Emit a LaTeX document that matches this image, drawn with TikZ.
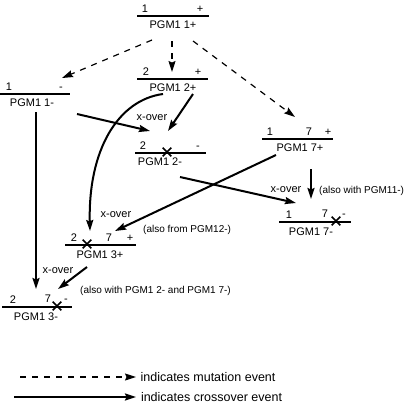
\documentclass[tikz,border=0pt]{standalone}
\usepackage{fontspec}
\setmainfont{Liberation Sans}
\usetikzlibrary{arrows.meta,shapes.misc}

\begin{document}
\begin{tikzpicture}[x=1pt, y=-1pt, >={Stealth[length=11pt,width=7pt,inset=1.5pt]},
    chrom/.style={line width=1.8pt},
    lbl/.style={font=\fontsize{11}{13}\selectfont, inner sep=0pt},
    note/.style={font=\fontsize{10}{12}\selectfont, inner sep=0pt},
    locus/.style={lbl, anchor=south},
    strain/.style={lbl, anchor=north},
    xmark/.style={cross out, draw, line width=1.6pt, minimum size=7pt, inner sep=0pt},
    mut/.style={->, line width=1.2pt, dash pattern=on 6pt off 6pt},
    xo/.style={->, line width=2pt}]
    \useasboundingbox (0,0) rectangle (406,407);
    % PGM1 1+
    \draw[chrom] (137,16) -- (209,16);
    \node[locus] (t11p) at (145,13) {1}; \node[locus] (s11p) at (200,13) {+};
    \node[strain] (n11p) at (173,20.5) {PGM1 1+};
    % PGM1 2+
    \draw[chrom] (137,79) -- (208,79);
    \node[locus] (t12p) at (146,76) {2}; \node[locus] (s12p) at (198,76) {+};
    \node[strain] (n12p) at (173,83.5) {PGM1 2+};
    % PGM1 1-
    \draw[chrom] (0,94) -- (70,94);
    \node[locus] (t11m) at (9,91) {1}; \node[locus] (s11m) at (61,91) {-};
    \node[strain] (n11m) at (32,98.5) {PGM1 1-};
    % PGM1 7+
    \draw[chrom] (262,139) -- (333,139);
    \node[locus] (t17p) at (270,136) {1}; \node[locus] (u17p) at (309,136) {7};
    \node[locus] (s17p) at (328,136) {+};
    \node[strain] (n17p) at (300,143.5) {PGM1 7+};
    % PGM1 2-
    \draw[chrom] (135,153) -- (206,153);
    \node[locus] (t12m) at (143,150) {2}; \node[locus] (s12m) at (198,150) {-};
    \node[xmark] (x12m) at (167,152) {};
    \node[strain] (n12m) at (160,157.5) {PGM1 2-};
    % PGM1 7-
    \draw[chrom] (279,222) -- (351,222);
    \node[locus] (t17m) at (289,219) {1}; \node[locus] (u17m) at (325,218) {7};
    \node[locus] (s17m) at (344,218) {-};
    \node[xmark] (x17m) at (336,221) {};
    \node[strain] (n17m) at (311,227.5) {PGM1 7-};
    % PGM1 3+
    \draw[chrom] (65,245) -- (136,245);
    \node[locus] (t13p) at (74,242) {2}; \node[locus] (u13p) at (109,242) {7};
    \node[locus] (s13p) at (130,242) {+};
    \node[xmark] (x13p) at (87,244) {};
    \node[strain] (n13p) at (100,250.5) {PGM1 3+};
    % PGM1 3-
    \draw[chrom] (2,307) -- (72,307);
    \node[locus] (t13m) at (13,304) {2}; \node[locus] (u13m) at (48,303) {7};
    \node[locus] (s13m) at (66,303) {-};
    \node[xmark] (x13m) at (57,306) {};
    \node[strain] (n13m) at (36,312.5) {PGM1 3-};
    % arrow ends
    \coordinate (m1a) at (152,40); \coordinate (m1b) at (62,78);
    \coordinate (m2a) at (172,41); \coordinate (m2b) at (172,72);
    \coordinate (m3a) at (193,41); \coordinate (m3b) at (295,117);
    \coordinate (k1a) at (77,114); \coordinate (k1b) at (150,131);
    \coordinate (k2a) at (193,94); \coordinate (k2b) at (168,131);
    \coordinate (k3a) at (163,94); \coordinate (k3b) at (90,231);
    \coordinate (k4a) at (276,155); \coordinate (k4b) at (115,231);
    \coordinate (k5a) at (180,177); \coordinate (k5b) at (296,203);
    \coordinate (k6a) at (311,169); \coordinate (k6b) at (311,199);
    \coordinate (k7a) at (36,112); \coordinate (k7b) at (36,289);
    \coordinate (k8a) at (87,267); \coordinate (k8b) at (58,289);
    % mutation events
    \draw[mut] (m1a) -- (m1b);
    \draw[mut] (m2a) -- (m2b);
    \draw[mut] (m3a) -- (m3b);
    % crossover events
    \draw[xo] (k1a) -- (k1b);
    \draw[xo] (k2a) -- (k2b);
    \draw[xo] (k3a) .. controls (118,100) and (88,150) .. (k3b);
    \draw[xo] (k4a) -- (k4b);
    \draw[xo] (k5a) -- (k5b);
    \draw[xo] (k6a) -- (k6b);
    \draw[xo] (k7a) -- (k7b);
    \draw[xo] (k8a) -- (k8b);
    \node[lbl] (x1) at (152,118) {x-over};
    \node[lbl] (x2) at (116,215) {x-over};
    \node[lbl] (x3) at (286,190) {x-over};
    \node[lbl] (x4) at (58,271) {x-over};
    \node[note, anchor=west] (r1) at (143,230) {(also from PGM12-)};
    \node[note, anchor=west] (r2) at (319,191) {(also with PGM11-)};
    \node[note, anchor=west] (r3) at (80,291) {(also with PGM1 2- and PGM1 7-)};
    % legend
    \coordinate (l1a) at (20,377); \coordinate (l1b) at (136,377);
    \coordinate (l2a) at (14,397); \coordinate (l2b) at (136,397);
    \draw[mut] (l1a) -- (l1b) node[lbl, right=4pt, font=\fontsize{12.5}{14}\selectfont] (g1) {indicates mutation event};
    \draw[xo] (l2a) -- (l2b) node[lbl, right=4pt, font=\fontsize{12.5}{14}\selectfont] (g2) {indicates crossover event};
\end{tikzpicture}
\end{document}
